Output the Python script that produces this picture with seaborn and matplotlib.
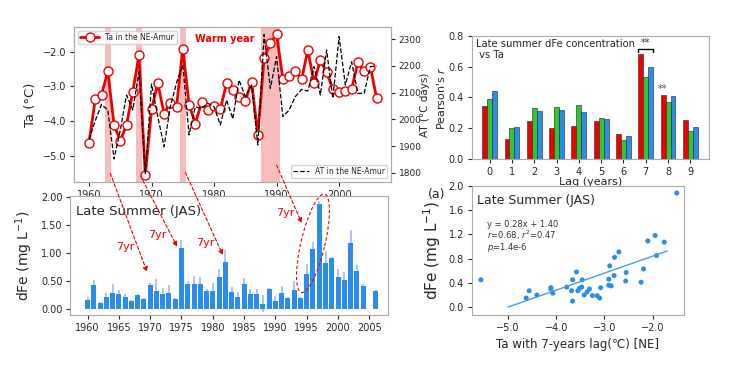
import numpy as np
import pandas as pd
import matplotlib
matplotlib.use("Agg")
import matplotlib.pyplot as plt
import matplotlib.transforms as mtransforms
from matplotlib.patches import ConnectionPatch, Ellipse
import seaborn as sns

# --- data ---
years = list(range(1960, 2007))
ta = [-4.62, -3.36, -3.25, -2.56, -4.11, -4.56, -4.11, -3.15, -2.10, -5.56,
      -3.66, -2.91, -3.78, -3.47, -3.58, -1.92, -3.52, -4.07, -3.46, -3.68,
      -3.55, -3.66, -2.91, -3.10, -3.31, -3.42, -2.86, -4.40, -2.19, -1.76,
      -1.50, -2.79, -2.70, -2.55, -2.80, -1.95, -2.89, -2.24, -2.59, -3.08,
      -3.16, -3.13, -3.08, -2.31, -2.55, -2.43, -3.34]
at = [1925, 1995, 2056, 2035, 1852, 1960, 2091, 2035, 2178, 1795,
      2132, 2010, 1898, 2047, 2137, 2203, 1942, 2047, 2041, 2060,
      2047, 1979, 2072, 2002, 2147, 2085, 2128, 1904, 2317, 2116,
      2234, 2010, 2035, 2085, 2112, 2106, 2197, 2091, 2259, 2079,
      2309, 2128, 2215, 2097, 2097, 2197, 2199]
dfe = [0.17, 0.43, 0.12, 0.22, 0.30, 0.27, 0.22, 0.15, 0.25, 0.19,
       0.43, 0.32, 0.27, 0.30, 0.19, 1.09, 0.45, 0.45, 0.46, 0.33,
       0.33, 0.58, 0.85, 0.31, 0.23, 0.45, 0.27, 0.27, 0.10, 0.36,
       0.15, 0.30, 0.20, 0.35, 0.20, 0.63, 1.07, 1.88, 0.82, 0.91,
       0.57, 0.52, 1.18, 0.68, 0.41, np.nan, 0.32]
dfe_err = [0.06, 0.10, 0.02, 0.08, 0.15, 0.07, 0.05, 0.02, 0.03, 0.02,
           0.05, 0.22, 0.12, 0.14, 0.02, 0.15, 0.06, 0.14, 0.12, 0.03,
           0.15, 0.14, 0.21, 0.09, 0.08, 0.11, 0.10, 0.10, 0.15, 0.02,
           0.09, 0.11, 0.02, 0.15, 0.02, 0.18, 0.14, 0.05, 0.23, 0.02,
           0.16, 0.15, 0.24, 0.12, 0.04, np.nan, 0.03]
warm_spans = [(1962.5, 1963.5), (1967.5, 1968.5), (1974.5, 1975.5), (1987.5, 1990.6)]

lags = list(range(10))
r_red = [0.346, 0.129, 0.249, 0.200, 0.213, 0.249, 0.163, 0.682, 0.415, 0.256]
r_green = [0.387, 0.200, 0.333, 0.338, 0.353, 0.265, 0.127, 0.533, 0.374, 0.181]
r_blue = [0.445, 0.209, 0.312, 0.320, 0.303, 0.258, 0.153, 0.596, 0.411, 0.206]

lag_yrs = 7
fit_slope, fit_icpt = 0.28, 1.40
fit_xrange = (-5.0, -1.7)

RED = "#ee0000"
GREEN = "#33c633"
BLUE = "#2a8cec"

sns.set_style("ticks", {"axes.edgecolor": "#aaaaaa"})
plt.rcParams["font.family"] = ["DejaVu Sans"]
plt.rcParams["xtick.labelsize"] = 7
plt.rcParams["ytick.labelsize"] = 7
plt.rcParams["xtick.major.pad"] = 2.5
plt.rcParams["ytick.major.pad"] = 2.5
plt.rcParams["xtick.major.size"] = 3
plt.rcParams["ytick.major.size"] = 3

fig = plt.figure(figsize=(7.38, 3.69), dpi=100)

# ---- top left: Ta and AT time series ----
ax1 = fig.add_axes([0.1003, 0.5068, 0.4295, 0.42])
for a, b in warm_spans:
    ax1.axvspan(a, b, color="#f9bcbc", lw=0, zorder=0)
sns.lineplot(x=years, y=ta, ax=ax1, color=RED, lw=2, marker="o", markersize=6.5,
             markerfacecolor="white", markeredgecolor=RED, markeredgewidth=1,
             label="Ta in the NE-Amur")
ax1.set_xlim(1957.6, 2008.3)
ax1.set_ylim(-5.75, -1.29)
ax1.set_yticks([-5, -4, -3, -2])
ax1.yaxis.set_major_formatter("{x:.1f}")
ax1.set_xticks(range(1960, 2001, 10))
ax1.set_ylabel("Ta (°C)", fontsize=9.5)
ax1.legend(loc="upper left", fontsize=5.5, borderpad=0.3, handlelength=2.5)
ax1.text(1977, -1.63, "Warm year", color=RED, fontsize=7, fontweight="bold", va="center")

ax2 = ax1.twinx()
sns.lineplot(x=years, y=at, ax=ax2, color="black", lw=0.9, ls="--", label="AT in the NE-Amur")
ax2.set_ylim(1766, 2345)
ax2.set_yticks(range(1800, 2301, 100))
ax2.tick_params(axis="y", labelsize=6.5)
ax2.set_ylabel("AT (°C days)", fontsize=7.5)
ax2.yaxis.set_label_coords(1.093, 0.5)
ax2.legend(loc="lower right", fontsize=5.5, borderpad=0.3)

# ---- bottom left: dFe bars ----
ax3 = fig.add_axes([0.0949, 0.1463, 0.431, 0.3233])
df = pd.DataFrame({"year": years, "dfe": dfe, "err": dfe_err}).dropna()
ax3.errorbar(df["year"], df["dfe"], yerr=df["err"], fmt="none", ecolor="#a9b6f2",
             elinewidth=1.2, zorder=0.5)
sns.barplot(data=df, x="year", y="dfe", native_scale=True, color=BLUE, width=0.8,
            saturation=1, errorbar=None, linewidth=0, edgecolor="none", ax=ax3, zorder=1)
ax3.set_xlim(1957.2, 2008)
ax3.set_ylim(-0.1, 2.03)
ax3.set_xticks(range(1960, 2006, 5))
ax3.set_yticks(np.arange(0, 2.01, 0.5))
ax3.yaxis.set_major_formatter("{x:.2f}")
ax3.set_xlabel("")
ax3.set_ylabel("dFe (mg L$^{-1}$)", fontsize=10)
ax3.text(0.02, 0.87, "Late Summer (JAS)", transform=ax3.transAxes, fontsize=9.5, va="center")

# 7-year lag arrows from the warm years to the dFe peaks
arrows = [((1963.4, -5.5), (1969.5, 0.67), (1966.0, 1.11)),
          ((1968.6, -5.7), (1974.3, 1.12), (1971.1, 1.33)),
          ((1975.4, -5.47), (1981.6, 0.97), (1978.8, 1.18)),
          ((1990.0, -5.26), (1994.2, 1.54), (1991.5, 1.72))]
for start, end, lab in arrows:
    con = ConnectionPatch(xyA=start, coordsA=ax1.transData, xyB=end, coordsB=ax3.transData,
                          arrowstyle="-|>", ls=(0, (3, 2)), color=RED, lw=0.8, mutation_scale=7)
    fig.add_artist(con)
    ax3.text(lab[0], lab[1], "7yr", color=RED, fontsize=8, ha="center", va="center")

trans = fig.dpi_scale_trans + mtransforms.ScaledTranslation(1996, 1.18, ax3.transData)
fig.add_artist(Ellipse((0, 0), 1.01, 0.24, angle=76.7, transform=trans, fill=False,
                       ec=RED, ls=(0, (3, 2)), lw=0.8))

# ---- top right: lag correlations ----
ax4 = fig.add_axes([0.6392, 0.5683, 0.322, 0.335])
df_r = pd.DataFrame({"lag": lags * 3, "r": r_red + r_green + r_blue,
                     "series": ["s1"] * 10 + ["s2"] * 10 + ["s3"] * 10})
sns.barplot(data=df_r, x="lag", y="r", hue="series", palette=[RED, GREEN, BLUE],
            width=0.66, saturation=1, edgecolor="#222222", linewidth=0.4,
            legend=False, ax=ax4)
ax4.set_xlim(-0.8, 9.85)
ax4.set_ylim(0, 0.8)
ax4.set_yticks(np.arange(0, 0.81, 0.2))
ax4.yaxis.set_major_formatter("{x:.1f}")
ax4.set_xlabel("Lag (years)", fontsize=8)
ax4.xaxis.set_label_coords(0.5, -0.14)
ax4.set_ylabel("Pearson's $r$", fontsize=8)
ax4.yaxis.set_label_coords(-0.105, 0.5)
ax4.text(0.02, 0.97, "Late summer dFe concentration\n vs Ta", transform=ax4.transAxes,
         fontsize=7.2, va="top", ha="left", linespacing=1.1)
ax4.plot([6.67, 6.67, 7.33, 7.33], [0.697, 0.714, 0.714, 0.697], color="black", lw=1)
ax4.text(7.0, 0.72, "**", ha="center", va="bottom", fontsize=7, color="#333333")
ax4.text(7.74, r_red[8] + 0.005, "**", ha="center", va="bottom", fontsize=7, color="#555555")

# ---- bottom right: scatter with 7-year lag ----
ax5 = fig.add_axes([0.6392, 0.1463, 0.2877, 0.3504])
x_lag = np.array(ta[:-lag_yrs])
y_lag = np.array(dfe[lag_yrs:])
ok = ~np.isnan(y_lag)
sns.scatterplot(x=x_lag[ok], y=y_lag[ok], ax=ax5, color=BLUE, s=13, edgecolor="none")
fx = np.array(fit_xrange)
sns.lineplot(x=fx, y=fit_slope * fx + fit_icpt, ax=ax5, color="#4a9be8", lw=1)
ax5.set_xlim(-5.75, -1.35)
ax5.set_ylim(-0.13, 2.0)
ax5.set_xticks([-5, -4, -3, -2])
ax5.xaxis.set_major_formatter("{x:.1f}")
ax5.set_yticks(np.arange(0, 2.01, 0.4))
ax5.yaxis.set_major_formatter("{x:.1f}")
ax5.set_xlabel("Ta with 7-years lag(℃) [NE]", fontsize=8.5)
ax5.set_ylabel("dFe (mg L$^{-1}$)", fontsize=11)
ax5.text(0.026, 0.884, "Late Summer (JAS)", transform=ax5.transAxes, fontsize=9, va="center")
ax5.text(0.07, 0.70, f"y = {fit_slope:.2f}x + {fit_icpt:.2f}", transform=ax5.transAxes,
         fontsize=6, va="center", color="#333333")
ax5.text(0.07, 0.616, "$r$=0.68, $r^2$=0.47", transform=ax5.transAxes,
         fontsize=6, va="center", color="#333333")
ax5.text(0.07, 0.52, "$p$=1.4e-6", transform=ax5.transAxes,
         fontsize=6, va="center", color="#333333")
fig.text(0.592, 0.474, "(a)", fontsize=9, ha="center", va="center")

fig.savefig("out.png", dpi=100)
